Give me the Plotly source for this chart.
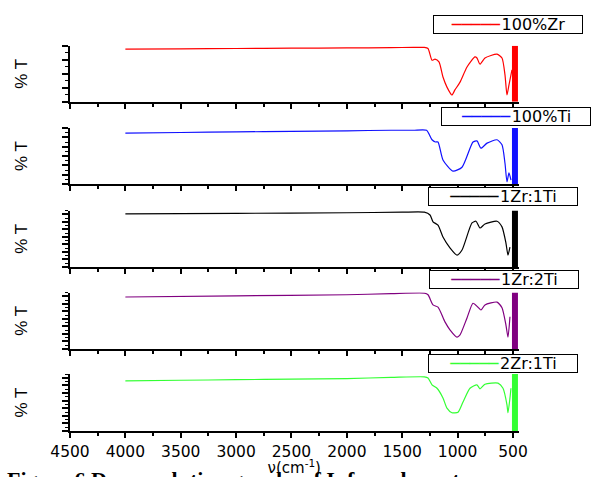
import plotly.graph_objects as go

# ---------------- data ----------------
names = ["100%Zr", "100%Ti", "1Zr:1Ti", "1Zr:2Ti", "2Zr:1Ti"]
colors = ["#ff0000", "#1010ff", "#000000", "#800080", "#33ff33"]

wn_zr = [4000, 3500, 3000, 2500, 2000, 1600, 1400, 1300, 1267, 1231, 1204, 1168, 1132, 1096, 1051,
         1024, 978, 915, 843, 825, 798, 753, 644, 599, 572, 554, 536, 509]
t_zr = [94, 94.5, 95, 95.5, 96, 96.5, 97, 97, 95, 74, 76, 71, 44, 26, 12,
        21, 35, 62, 80, 78, 67, 78, 85, 78, 48, 12, 30, 57]

wn_ti = [4000, 3500, 3000, 2500, 2000, 1600, 1400, 1280, 1231, 1200, 1177, 1132, 1042, 960, 861,
         825, 789, 734, 644, 599, 572, 554, 536, 518]
t_ti = [91, 92, 93, 94, 95, 96, 96, 96, 79, 75, 75, 43, 23, 30, 75,
        77, 64, 73, 79, 70, 37, 4, 20, 7]

wn_11 = [4000, 3000, 2000, 1500, 1300, 1249, 1222, 1177, 1132, 1069, 1005, 960, 870, 834, 798,
         753, 644, 599, 563, 545, 527]
t_11 = [94, 95, 96, 97, 97, 92, 80, 74, 53, 34, 21, 30, 78, 81, 69,
        76, 81, 71, 42, 21, 35]

wn_12 = [4000, 3000, 2000, 1600, 1300, 1267, 1222, 1177, 1114, 1069, 1005, 978, 915, 861, 816,
         789, 753, 644, 599, 563, 545, 527]
t_12 = [92, 94, 96, 98, 99, 96, 78, 74, 48, 34, 21, 25, 55, 81, 74,
        69, 78, 83, 73, 42, 21, 57]

wn_21 = [4000, 3500, 3000, 2500, 2000, 1600, 1300, 1267, 1231, 1186, 1132, 1096, 1051, 996, 951,
         888, 825, 798, 753, 635, 590, 554, 545, 527, 518]
t_21 = [88, 89, 90, 91, 92, 94, 95, 93, 81, 75, 58, 40, 32, 33, 51,
        75, 81, 74, 82, 84, 75, 46, 32, 58, 75]

wavenumbers = [wn_zr, wn_ti, wn_11, wn_12, wn_21]
transmittance = [t_zr, t_ti, t_11, t_12, t_21]

# dense noisy band at the low-wavenumber end of every spectrum
band_center = 482
band_width = 54
band_height = 100

x_ticks = [4500, 4000, 3500, 3000, 2500, 2000, 1500, 1000, 500]
x_title = "ν(cm<sup>-1</sup>)"
y_title = "% T"
caption = "Figure 6 Deconvolution graphs of Infrared spectra"

# ---------------- layout geometry ----------------
W, H = 592, 477
x_left, x_right = 70, 518.5
panels_px = [(45.7, 101.7), (128, 184), (210.5, 267), (292.5, 349), (374, 431)]
legend_px = [(583, 15), (591, 107), (578, 187), (579, 270), (578, 354)]
y_minor_step = [12.5, 8.333, 6.667, 6.667, 6.667]

fig = go.Figure()
FONT = "DejaVu Sans"

for i in range(5):
    xa = "x" if i == 0 else f"x{i+1}"
    ya = "y" if i == 0 else f"y{i+1}"
    fig.add_trace(go.Scatter(
        x=wavenumbers[i], y=transmittance[i], mode="lines", name=names[i],
        line=dict(color=colors[i], width=1.2, shape="spline", smoothing=0.6),
        xaxis=xa, yaxis=ya, showlegend=False))
    fig.add_trace(go.Bar(
        x=[band_center], y=[band_height], width=[band_width], base=0,
        marker=dict(color=colors[i], line=dict(width=0)),
        xaxis=xa, yaxis=ya, showlegend=False))

    top, bot = panels_px[i]
    xkey = "xaxis" if i == 0 else f"xaxis{i+1}"
    ykey = "yaxis" if i == 0 else f"yaxis{i+1}"
    last = (i == 4)
    xdict = dict(
        domain=[x_left / W, x_right / W], range=[4500, 450], anchor=ya, automargin=False,
        showline=True, linecolor="black", linewidth=2, showgrid=False, zeroline=False,
        ticks="outside", ticklen=5, tickwidth=2, tickcolor="black",
        tickvals=x_ticks, showticklabels=last,
        tickfont=dict(family=FONT, size=15.5, color="black"),
        minor=dict(dtick=250, tick0=500, ticks="outside", ticklen=3, tickwidth=1.5,
                   tickcolor="black", showgrid=False),
    )
    if last:
        xdict["title"] = dict(text=x_title, font=dict(family=FONT, size=15, color="black"),
                              standoff=0)
    fig.layout[xkey] = xdict
    ms = y_minor_step[i]
    fig.layout[ykey] = dict(
        domain=[1 - bot / H, 1 - top / H], range=[0, 100], anchor=xa, automargin=False,
        showline=True, linecolor="black", linewidth=2, showgrid=False, zeroline=False,
        ticks="outside", ticklen=6, tickwidth=1.5, tickcolor="black",
        dtick=2 * ms, tick0=0, showticklabels=False,
        minor=dict(dtick=ms, tick0=0, ticks="outside", ticklen=3, tickwidth=1,
                   tickcolor="black", showgrid=False),
        title=dict(text=y_title, font=dict(family="Liberation Sans", size=17, color="black"),
                   standoff=30),
    )
    # legend box for each panel
    rx, ty = legend_px[i]
    fig.add_annotation(
        text=f'<span style="color:{colors[i]}">─────</span>'
             f'<span style="font-size:5px">&nbsp;</span>{names[i]}',
        xref="paper", yref="paper", x=rx / W, y=1 - ty / H, xanchor="right", yanchor="top",
        width=146, height=15, align="center", valign="middle",
        bordercolor="black", borderwidth=1, borderpad=1, bgcolor="white",
        showarrow=False, font=dict(family=FONT, size=16, color="black"))

fig.add_annotation(
    text=f"<b>{caption}</b>",
    xref="paper", yref="paper", x=5 / W, y=(H - 465) / H, xanchor="left", yanchor="top",
    showarrow=False, font=dict(family="Liberation Serif", size=22, color="black"))

fig.update_layout(
    width=W, height=H, margin=dict(l=0, r=0, t=0, b=0),
    paper_bgcolor="white", plot_bgcolor="white", showlegend=False,
)

fig.write_html("out.html")
